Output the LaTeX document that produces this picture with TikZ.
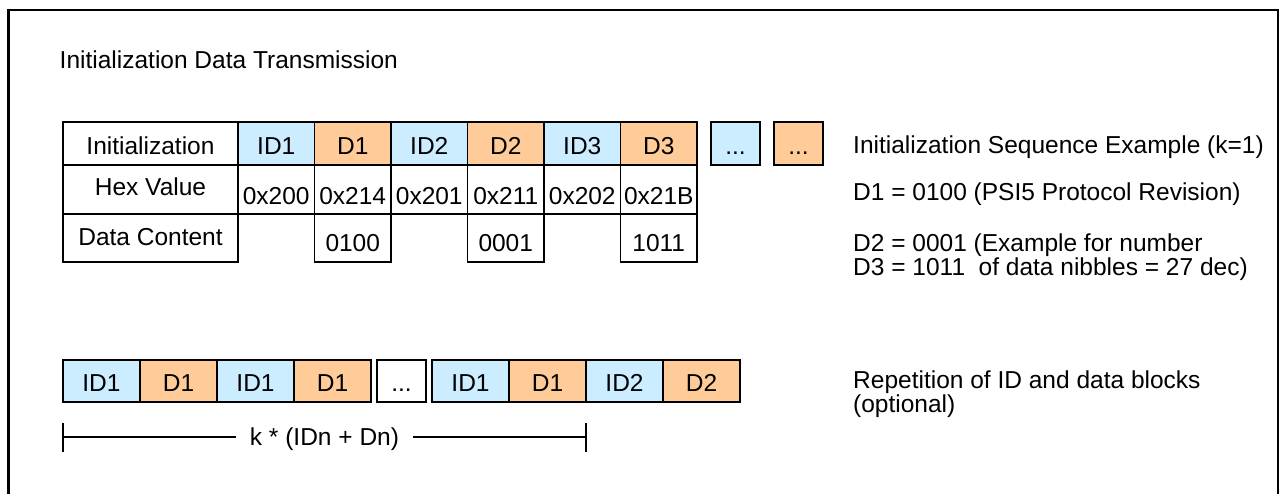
\documentclass[tikz,border=0pt]{standalone}
\usepackage{fontspec}
\setmainfont{Liberation Sans}
\usetikzlibrary{positioning}

\definecolor{idblue}{RGB}{204,236,255}
\definecolor{dorange}{RGB}{255,204,153}
\newcommand{\diagfont}{\fontsize{24.5pt}{28pt}\selectfont}
\newcommand{\tightfont}{\fontsize{24.5pt}{21.5pt}\selectfont}

\begin{document}
\begin{tikzpicture}[%
    x=1pt, y=-1pt,
    font=\diagfont,
    cell/.style={
      draw,
      line width=1.4pt,
      inner sep=0pt,
      outer sep=0pt,
      anchor=north west,
      minimum width=76.5pt,
      text height=17.5pt,
      text depth=0pt
    },
    idcell/.style={cell, fill=idblue},
    dcell/.style={cell, fill=dorange},
    toprow/.style={minimum height=43pt, text height=22.5pt},
    hexrow/.style={minimum height=49pt, text height=30.9pt},
    datarow/.style={minimum height=48pt, text height=26.9pt},
    reprow/.style={minimum height=42pt, minimum width=77pt, text height=21.1pt},
    note/.style={anchor=base west, inner sep=0pt},
    twolines/.style={note, align=left, font=\tightfont}
  ]
  \useasboundingbox (0,0) rectangle (1280,493);
  \draw[line width=2.6pt] (8.7,510) |- (1277.8,10) -- (1277.8,510);

  \draw (59.5,68.8) node[note] (title) {Initialization Data Transmission};

  % initialization table
  \draw (63,122) node[cell, toprow, minimum width=175pt] (initlbl) {Initialization};
  \node[idcell, toprow, right=0pt of initlbl] (id1) {ID1};
  \node[dcell, toprow, right=0pt of id1] (d1) {D1};
  \node[idcell, toprow, right=0pt of d1] (id2) {ID2};
  \node[dcell, toprow, right=0pt of id2] (d2) {D2};
  \node[idcell, toprow, right=0pt of d2] (id3) {ID3};
  \node[dcell, toprow, right=0pt of id3] (d3) {D3};
  \node[idcell, toprow, minimum width=49pt, right=14pt of d3] (iddots) {...};
  \node[dcell, toprow, minimum width=49pt, right=14pt of iddots] (ddots) {...};

  \node[cell, hexrow, minimum width=175pt, text height=17.5pt, text depth=5.6pt,
    below=0pt of initlbl] (hexlbl) {Hex Value};
  \node[cell, hexrow, below=0pt of id1] (hex1) {0x200};
  \node[cell, hexrow, below=0pt of d1] (hex2) {0x214};
  \node[cell, hexrow, below=0pt of id2] (hex3) {0x201};
  \node[cell, hexrow, below=0pt of d2] (hex4) {0x211};
  \node[cell, hexrow, below=0pt of id3] (hex5) {0x202};
  \node[cell, hexrow, below=0pt of d3] (hex6) {0x21B};

  \node[cell, datarow, minimum width=175pt, text height=17.5pt, text depth=2.6pt,
    below=0pt of hexlbl] (datalbl) {Data Content};
  \node[cell, datarow, below=0pt of hex2] (data1) {0100};
  \node[cell, datarow, below=0pt of hex4] (data2) {0001};
  \node[cell, datarow, below=0pt of hex6] (data3) {1011};

  \draw (853,153.8) node[note] (seqnote) {Initialization Sequence Example (k=1)};
  \draw (853,200.8) node[note] (d1note) {D1 = 0100 (PSI5 Protocol Revision)};
  \draw (853,275.8) node[twolines] (d23note) {D2 = 0001 (Example for number\\
    D3 = 1011\ \ of data nibbles = 27 dec)};

  % repetition row
  \draw (63,360) node[idcell, reprow] (rep1) {ID1};
  \node[dcell, reprow, right=0pt of rep1] (rep2) {D1};
  \node[idcell, reprow, right=0pt of rep2] (rep3) {ID1};
  \node[dcell, reprow, right=0pt of rep3] (rep4) {D1};
  \node[cell, reprow, minimum width=49pt, right=6pt of rep4] (repdots) {...};
  \node[idcell, reprow, right=6pt of repdots] (rep5) {ID1};
  \node[dcell, reprow, right=0pt of rep5] (rep6) {D1};
  \node[idcell, reprow, right=0pt of rep6] (rep7) {ID2};
  \node[dcell, reprow, right=0pt of rep7] (rep8) {D2};

  \coordinate (kL) at ([yshift=-35pt]rep1.south west);
  \coordinate (kR) at ([yshift=-35pt]rep6.south east);
  \draw[line width=1.3pt] (kL) -- node[fill=white, inner xsep=14pt, inner ysep=0pt,
    text height=17.5pt, text depth=0pt] (kform) {k * (IDn + Dn)} (kR);
  \draw[line width=2pt] ([yshift=14pt]kL) -- ([yshift=-15pt]kL);
  \draw[line width=2pt] ([yshift=14pt]kR) -- ([yshift=-15pt]kR);

  \draw (853,412.1) node[twolines] (repnote) {Repetition of ID and data blocks\\
    (optional)};
\end{tikzpicture}
\end{document}
